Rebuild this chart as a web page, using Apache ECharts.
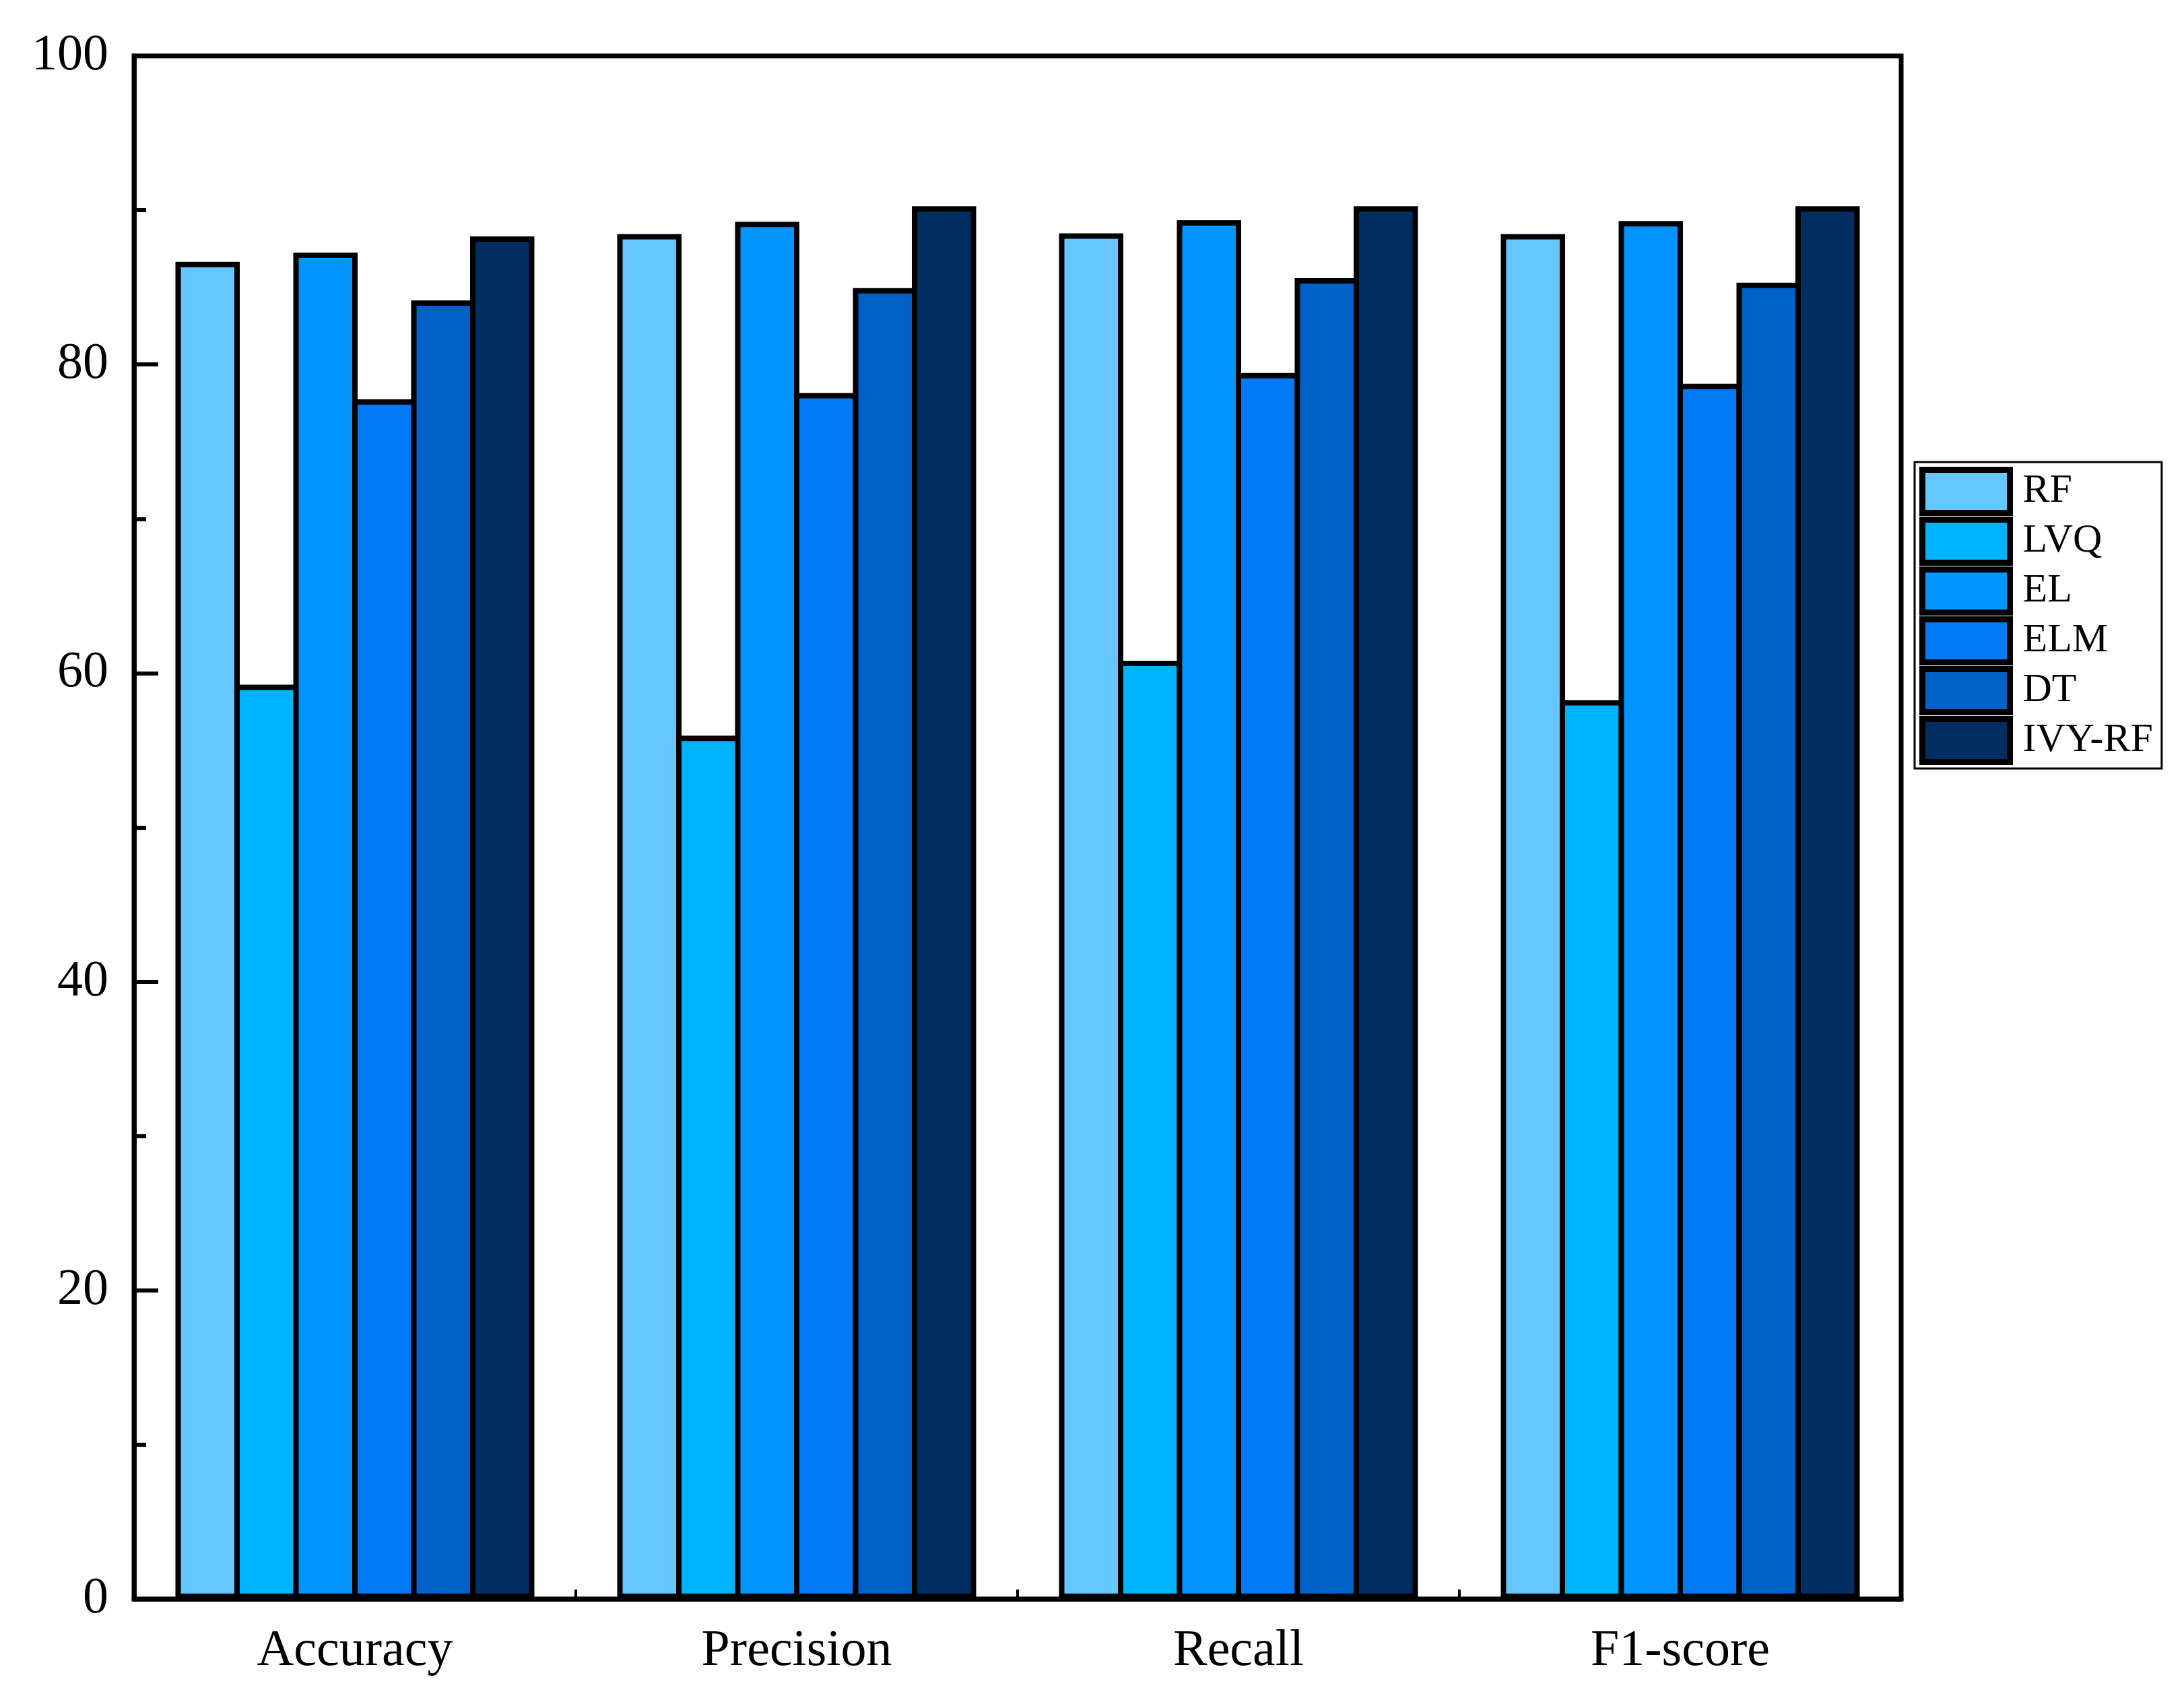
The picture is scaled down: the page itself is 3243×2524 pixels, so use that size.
<!DOCTYPE html>
<html>
<head>
<meta charset="utf-8">
<script src="https://cdn.jsdelivr.net/npm/echarts@6/dist/echarts.min.js"></script>
<style>
html,body{margin:0;padding:0;background:#fff;}
#c{width:3243px;height:2524px;}
</style>
</head>
<body>
<div id="c"></div>
<script>
const categories = ['Accuracy', 'Precision', 'Recall', 'F1-score'];
const seriesNames = ['RF', 'LVQ', 'EL', 'ELM', 'DT', 'IVY-RF'];
const RF    = [86.65, 88.45, 88.5, 88.45];
const LVQ   = [59.25, 55.95, 60.8, 58.25];
const EL    = [87.25, 89.25, 89.35, 89.3];
const ELM   = [77.75, 78.15, 79.45, 78.75];
const DT    = [84.15, 84.95, 85.6, 85.3];
const IVYRF = [88.3, 90.25, 90.25, 90.25];
const yTicks = [0, 20, 40, 60, 80, 100];

const colors = ['#66c6ff', '#00b3ff', '#0494ff', '#037af5', '#0062c9', '#002d62'];
const dataSets = [RF, LVQ, EL, ELM, DT, IVYRF];
const FONT = '"Liberation Serif", "Times New Roman", serif';

const chart = echarts.init(document.getElementById('c'));
chart.setOption({
  backgroundColor: '#fff',
  animation: false,
  color: colors,
  grid: {
    left: 199, top: 83, width: 2624, height: 2291,
    show: true, borderColor: '#000', borderWidth: 7, backgroundColor: 'transparent'
  },
  legend: {
    orient: 'vertical',
    left: 2843, top: 686,
    padding: [7, 13, 5, 7],
    borderColor: '#000', borderWidth: 3,
    itemWidth: 130, itemHeight: 64, itemGap: 1,
    icon: 'rect',
    itemStyle: { borderColor: '#000', borderWidth: 9 },
    textStyle: { fontFamily: FONT, fontSize: 60, color: '#000', lineHeight: 64, padding: [0, 0, 0, 14] },
    data: seriesNames
  },
  xAxis: {
    type: 'category',
    data: categories,
    axisLine: { lineStyle: { color: '#000', width: 7 } },
    axisTick: { show: true, inside: true, length: 14, lineStyle: { color: '#000', width: 4 } },
    axisLabel: { fontFamily: FONT, fontSize: 76, color: '#000', margin: 40 },
    splitLine: { show: false }
  },
  yAxis: {
    type: 'value',
    min: yTicks[0], max: yTicks[yTicks.length - 1], interval: 20,
    axisLine: { show: true, lineStyle: { color: '#000', width: 7 } },
    axisTick: { show: true, inside: true, length: 36, lineStyle: { color: '#000', width: 6 } },
    minorTick: { show: true, splitNumber: 2, length: 18, lineStyle: { color: '#000', width: 6 } },
    axisLabel: { fontFamily: FONT, fontSize: 76, color: '#000', margin: 38 },
    splitLine: { show: false }
  },
  series: seriesNames.map((n, i) => ({
    name: n,
    type: 'bar',
    data: dataSets[i],
    barGap: '-8.4%',
    barCategoryGap: '18.75%',
    itemStyle: { color: colors[i], borderColor: '#000', borderWidth: 8 }
  }))
});
</script>
</body>
</html>
